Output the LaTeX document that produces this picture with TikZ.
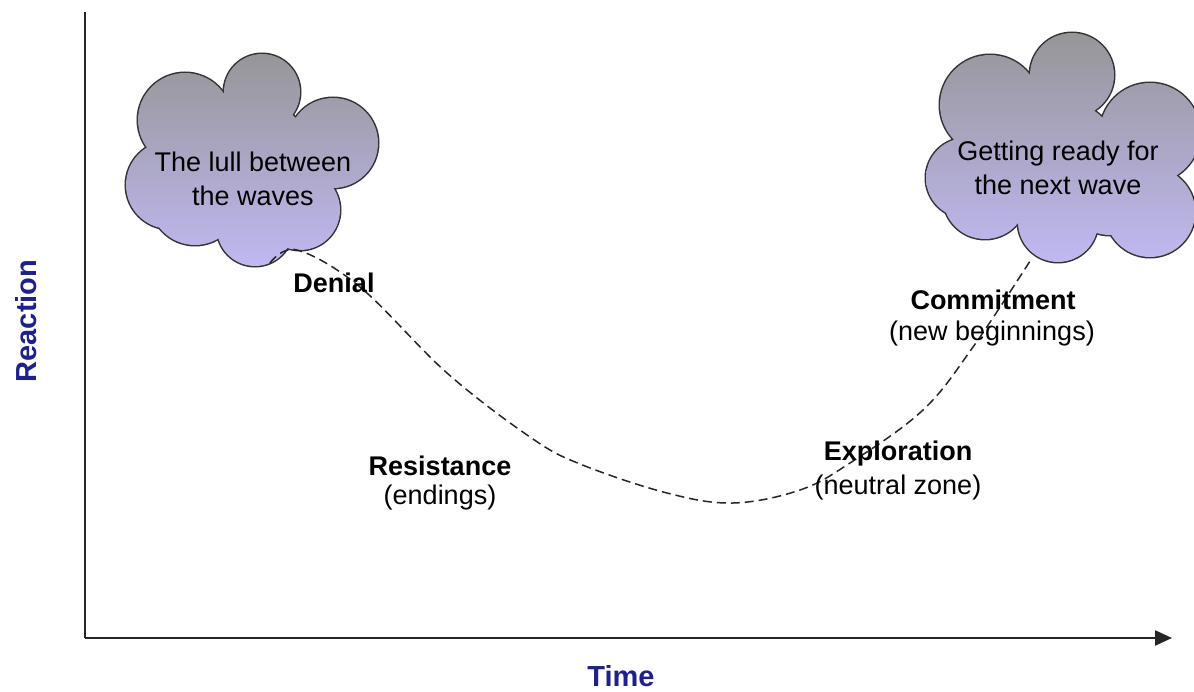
\documentclass[tikz,border=0pt]{standalone}
\usepackage{fontspec}
\setmainfont{Liberation Sans}
\usetikzlibrary{arrows.meta}
\definecolor{cloudtop}{RGB}{150,150,152}
\definecolor{cloudbot}{RGB}{192,184,242}
\definecolor{axisblue}{RGB}{32,32,140}
\tikzset{
  axisline/.style={line width=2.4pt, draw=black!85},
  cloudrim/.style={line width=3pt, draw=black!80},
  cloudfill/.style={top color=cloudtop, bottom color=cloudbot},
  lbl/.style={font=\fontsize{27}{34}\selectfont, align=center, inner sep=0pt},
  blbl/.style={font=\fontsize{27}{31}\selectfont\bfseries, inner sep=0pt},
  axlbl/.style={font=\fontsize{29}{33}\selectfont\bfseries, text=axisblue, inner sep=0pt},
  curve/.style={line width=1.5pt, draw=black!85, dash pattern=on 9pt off 5pt}
}
\begin{document}
\begin{tikzpicture}[x=1pt,y=-1pt]
\useasboundingbox (0,0) rectangle (1194,692);
% axes
\coordinate (origin) at (85,638);
\coordinate (ytop) at (85,12);
\coordinate (xend) at (1172,638);
\draw[axisline] (ytop) -- (origin);
\draw[axisline,-{Triangle[length=17pt,width=15pt]}] (origin) -- (xend);
\node[axlbl, rotate=90] (reaction) at (26,321) {Reaction};
\node[axlbl] (time) at (621,676) {Time};
% cloud 1
\begin{scope}
\foreach \c/\r in {{(185,120)}/47,{(262,92)}/38,{(333,143)}/45,{(300,210)}/40,{(255,228)}/38,{(195,200)}/45,{(170,185)}/44,{(250,160)}/62}
  {\draw[cloudrim] \c circle (\r);}
\shade[cloudfill] (185,120) circle (47) (262,92) circle (38) (333,143) circle (45) (300,210) circle (40) (255,228) circle (38) (195,200) circle (45) (170,185) circle (44) (250,160) circle (62);
\end{scope}
% cloud 2
\begin{scope}
\foreach \c/\r in {{(990,105)}/50,{(1072,75)}/42,{(1150,133)}/50,{(1150,212)}/45,{(1058,222)}/40,{(985,197)}/42,{(966,178)}/40,{(1060,160)}/60,{(1040,120)}/42,{(1110,190)}/45}
  {\draw[cloudrim] \c circle (\r);}
\shade[cloudfill] (990,105) circle (50) (1072,75) circle (42) (1150,133) circle (50) (1150,212) circle (45) (1058,222) circle (40) (985,197) circle (42) (966,178) circle (40) (1060,160) circle (60) (1040,120) circle (42) (1110,190) circle (45);
\end{scope}
\node[lbl] (lull) at (253,179) {The lull between\\the waves};
\node[lbl] (ready) at (1058,168) {Getting ready for\\the next wave};
% curve
\coordinate (c1) at (270,263);
\coordinate (c2) at (297,250);
\coordinate (c3) at (360,287);
\coordinate (c4) at (447,373);
\coordinate (c5) at (530,437);
\coordinate (c6) at (580,464);
\coordinate (c7) at (667,493);
\coordinate (c8) at (733,503);
\coordinate (c9) at (800,490);
\coordinate (c10) at (850,463);
\coordinate (c11) at (923,410);
\coordinate (c12) at (973,347);
\coordinate (c13) at (1032,258);
\draw[curve] plot[smooth, tension=0.6] coordinates {(c1) (c2) (c3) (c4) (c5) (c6) (c7) (c8) (c9) (c10) (c11) (c12) (c13)};
% labels
\node[blbl] (denial) at (334,283) {Denial};
\node[blbl] (resist) at (440,466) {Resistance};
\node[lbl] (endings) at (440,498) {(endings)};
\node[blbl] (explor) at (898,454) {Exploration};
\node[lbl] (neutral) at (898,488) {(neutral zone)};
\node[blbl] (commit) at (993,300) {Commitment};
\node[lbl] (newbeg) at (992,334) {(new beginnings)};
\end{tikzpicture}
\end{document}
